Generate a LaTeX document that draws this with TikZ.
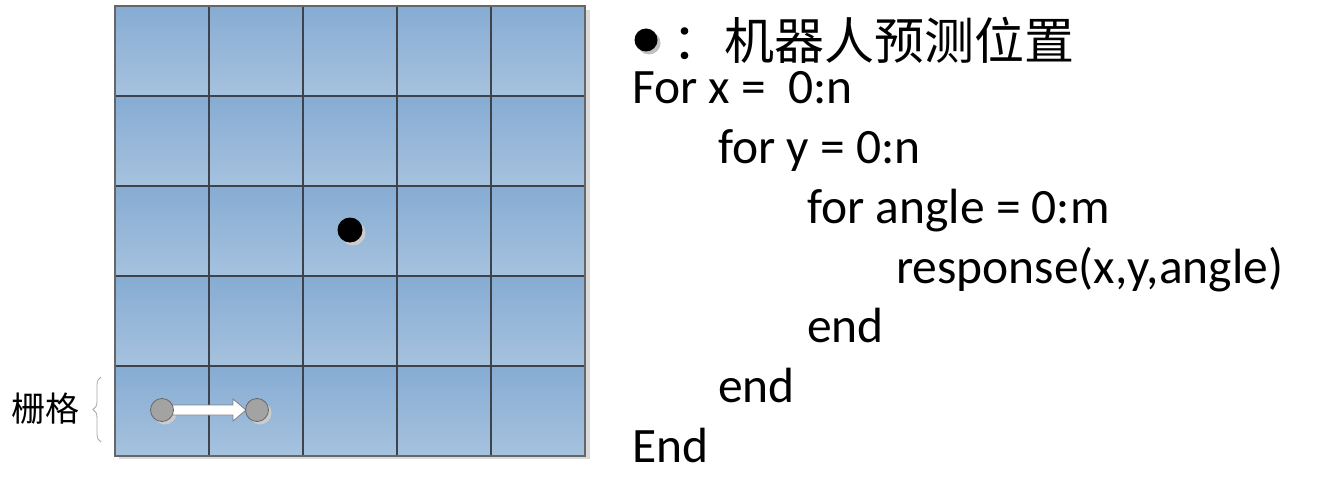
\documentclass[tikz,border=0pt]{standalone}
\usepackage{fontspec}
\setmainfont{Carlito}
\newfontfamily\cjk{Noto Sans CJK SC}
\usetikzlibrary{decorations.pathreplacing,calc}
\definecolor{celltop}{HTML}{86ACD3}
\definecolor{cellbot}{HTML}{A6C2DE}
\definecolor{gridline}{HTML}{3E434B}
\definecolor{shadowc}{HTML}{DADADA}
\definecolor{dotgray}{HTML}{A3A3A3}
\tikzset{
  cell/.style={top color=celltop, bottom color=cellbot, draw=gridline, line width=1.1pt},
  code/.style={anchor=base west, inner sep=0pt, font=\fontsize{49.5}{56}\selectfont},
  graydot/.style={circle, fill=dotgray, draw=gray!80!black, line width=0.8pt, minimum size=23pt, inner sep=0pt},
  blackdot/.style={circle, fill=black, minimum size=25pt, inner sep=0pt},
}
\begin{document}
\begin{tikzpicture}[x=1pt,y=-1pt]
\useasboundingbox (0,0) rectangle (1320,484);
% shadow
\fill[shadowc] (119,10) rectangle (590,459);
% cells
\foreach \i in {0,...,4}{
  \foreach \j in {0,...,4}{
    \path[cell] ({115+94*\i},{6+90*\j}) rectangle ({115+94*(\i+1)},{6+90*(\j+1)});
  }
}
\draw[gray!80!black, line width=1.4pt] (115,6) rectangle (585,456);
% robot position
\fill[gray!40] (353,233) circle (12.5);
\node[blackdot] (robot) at (350,230) {};
% grid step arrow
\coordinate (a1) at (162,410);
\coordinate (a2) at (257,410);
\fill[gray!40] ($(a1)+(3,3)$) circle (11.5);
\fill[gray!40] ($(a2)+(3,3)$) circle (11.5);
\filldraw[fill=white, draw=gray, line width=0.8pt]
  ($(a1)+(10,-5)$) -- ($(a2)+(-24,-5)$) -- ($(a2)+(-24,-11)$) -- ($(a2)+(-11,0)$)
  -- ($(a2)+(-24,11)$) -- ($(a2)+(-24,5)$) -- ($(a1)+(10,5)$) -- cycle;
\node[graydot] (g1) at (a1) {};
\node[graydot] (g2) at (a2) {};
% brace and label
\coordinate (b1) at (101,442);
\coordinate (b2) at (101,377);
\draw[gray!70, line width=0.8pt, decorate, decoration={brace, amplitude=8pt}] (b1) -- (b2);
\node[anchor=center, inner sep=0pt, font=\cjk\fontsize{34}{36}\selectfont] (lbl) at (46,409) {栅格};
% legend
\fill[gray!50] (649,43) circle (11.5);
\node[blackdot, minimum size=23pt] (leg) at (646,40) {};
\node[anchor=west, inner sep=0pt, font=\cjk\fontsize{50}{56}\selectfont] (legtxt) at (672,40) {：\hspace{2pt}机器人预测位置};
% code
\node[code] (l1) at (632,104) {For x =\ \ 0:n};
\node[code] (l2) at (718,163.5) {for y = 0:n};
\node[code] (l3) at (807,223) {for angle = 0:m};
\node[code] (l4) at (896,283) {response(x,y,angle)};
\node[code] (l5) at (807,342) {end};
\node[code] (l6) at (718,402) {end};
\node[code] (l7) at (632,462) {End};
\end{tikzpicture}
\end{document}
